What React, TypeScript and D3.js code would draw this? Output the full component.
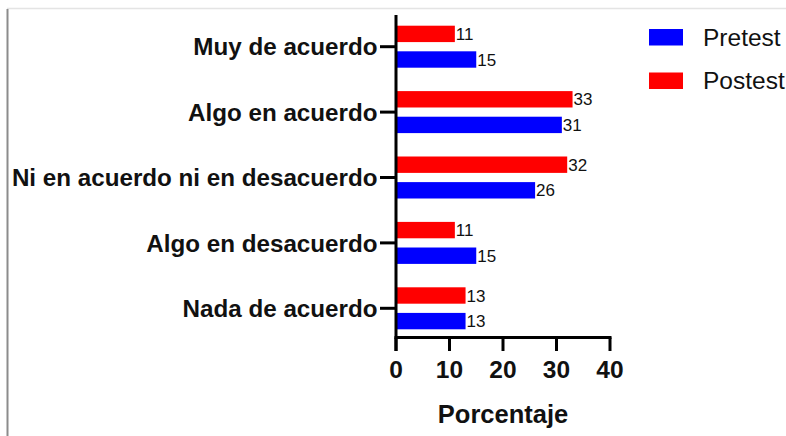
import React from "react";
import * as d3 from "d3";

const categories = [
  "Muy de acuerdo",
  "Algo en acuerdo",
  "Ni en acuerdo ni en desacuerdo",
  "Algo en desacuerdo",
  "Nada de acuerdo",
];
const seriesNames = ["Postest", "Pretest"];
const pretest = [15, 31, 26, 15, 13];
const postest = [11, 33, 32, 11, 13];
const xTicks = [0, 10, 20, 30, 40];
const legendItems = ["Pretest", "Postest"];

const W = 786;
const H = 436;
const FONT = "Arial, 'Liberation Sans', Helvetica, sans-serif";
const colors: Record<string, string> = { Pretest: "#0000ff", Postest: "#ff0000" };

export default function App() {
  const x = d3.scaleLinear().domain([0, 40]).range([396, 610]);
  const y = d3.scaleBand<string>().domain(categories).range([14, 341]).paddingInner(0);
  const sub = d3.scaleBand<string>().domain(seriesNames).range([-21, 21]).paddingInner(0.36);
  const valuesBy: Record<string, number[]> = { Pretest: pretest, Postest: postest };
  const axisY = 337.5;

  return (
    <svg
      width={W}
      height={H}
      style={{ position: "absolute", left: 0, top: 0, background: "#fff" }}
      fontFamily={FONT}
    >
      {/* frame edges */}
      <line x1={7} x2={W} y1={8.5} y2={8.5} stroke="#e4e4e4" strokeWidth={1.5} />
      <line x1={7.5} x2={7.5} y1={9} y2={H} stroke="#8c8c8c" strokeWidth={2} />

      {/* bars */}
      {categories.map((c, i) => {
        const cy = (y(c) as number) + y.bandwidth() / 2;
        return (
          <g key={c}>
            {seriesNames.map((s) => {
              const v = valuesBy[s][i];
              const by = cy + (sub(s) as number);
              return (
                <g key={s}>
                  <rect
                    x={x(0)}
                    y={by}
                    width={x(v) - x(0)}
                    height={sub.bandwidth()}
                    fill={colors[s]}
                  />
                  <text
                    x={x(v) + 1}
                    y={by + sub.bandwidth() / 2}
                    dy="0.36em"
                    fontSize={17}
                    fill="#111"
                  >
                    {v}
                  </text>
                </g>
              );
            })}
            {/* category tick + label */}
            <line x1={380} x2={396} y1={cy} y2={cy} stroke="#000" strokeWidth={3} />
            <text
              x={377.5}
              y={cy}
              dy="0.36em"
              textAnchor="end"
              fontSize={24.2}
              fontWeight="bold"
              fill="#111"
            >
              {c}
            </text>
          </g>
        );
      })}

      {/* y axis */}
      <line x1={396} x2={396} y1={15} y2={351} stroke="#000" strokeWidth={3} />
      {/* x axis */}
      <line x1={394.5} x2={x(40) + 1.5} y1={axisY} y2={axisY} stroke="#000" strokeWidth={3} />
      {xTicks.map((t) => (
        <g key={t}>
          <line x1={x(t)} x2={x(t)} y1={axisY} y2={351} stroke="#000" strokeWidth={3} />
          <text
            x={x(t)}
            y={377.5}
            textAnchor="middle"
            fontSize={24.5}
            fontWeight="bold"
            fill="#111"
          >
            {t}
          </text>
        </g>
      ))}
      <text
        x={(x(0) + x(40)) / 2}
        y={422.5}
        textAnchor="middle"
        fontSize={25.5}
        fontWeight="bold"
        fill="#111"
      >
        Porcentaje
      </text>

      {/* legend */}
      {legendItems.map((s, i) => (
        <g key={s} transform={`translate(649, ${29 + i * 43.5})`}>
          <rect x={0} y={0} width={34} height={16.5} fill={colors[s]} />
          <text x={54} y={16.5} fontSize={24.5} fill="#111">
            {s}
          </text>
        </g>
      ))}
    </svg>
  );
}
